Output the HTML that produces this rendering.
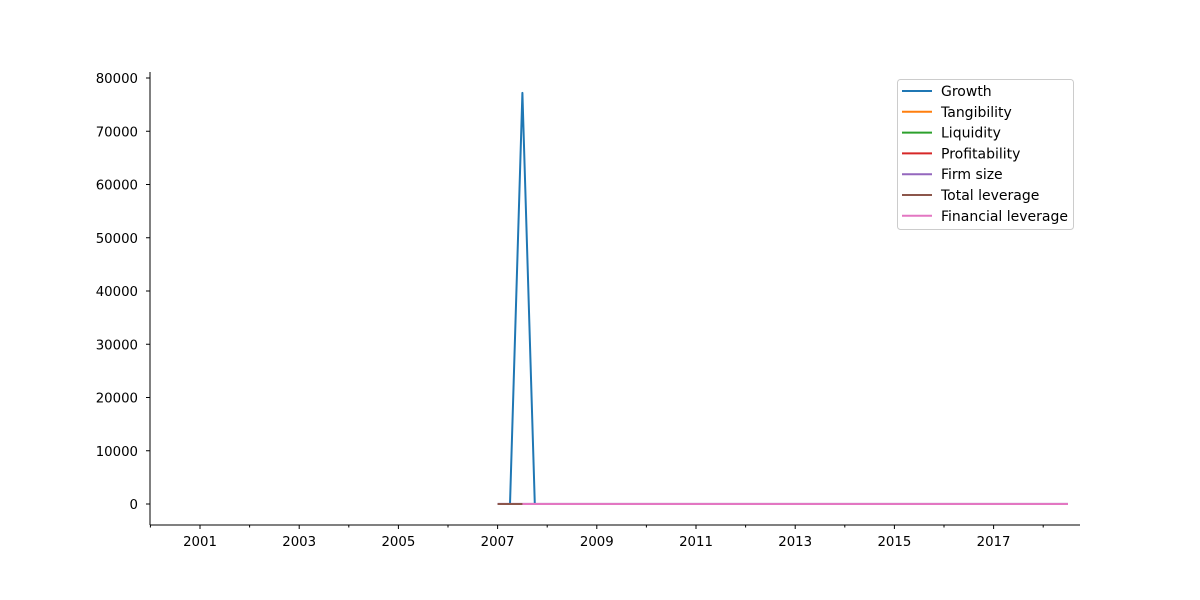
<!DOCTYPE html>
<html><head><meta charset="utf-8"><style>
body{margin:0;background:#fff;}
svg{display:block;font-family:"DejaVu Sans","Liberation Sans",sans-serif;}
</style></head><body>
<svg id="chart" width="1200" height="600"></svg>
<script>
const xTickYears = [2001,2003,2005,2007,2009,2011,2013,2015,2017];
const minorTickYears = [2000,2002,2004,2006,2008,2010,2012,2014,2016,2018];
const yTicks = [0,10000,20000,30000,40000,50000,60000,70000,80000];
const seriesNames = ["Growth","Tangibility","Liquidity","Profitability","Firm size","Total leverage","Financial leverage"];
const seriesColors = ["#1f77b4","#ff7f0e","#2ca02c","#d62728","#9467bd","#8c564b","#e377c2"];
const growthDates = [2007.25,2007.5,2007.75,2008,2009,2010,2011,2012,2013,2014,2015,2016,2017,2018,2018.5];
const growthValues = [0,77200,0,0,0,0,0,0,0,0,0,0,0,0,0];
const otherDates = [2007,2007.5,2008,2009,2010,2011,2012,2013,2014,2015,2016,2017,2018,2018.5];
const tangibilityValues = [0.3,0.3,0.3,0.3,0.3,0.3,0.3,0.3,0.3,0.3,0.3,0.3,0.3,0.3];
const liquidityValues = [1.2,1.2,1.3,1.2,1.3,1.2,1.2,1.3,1.2,1.2,1.3,1.2,1.2,1.2];
const profitabilityValues = [0.05,0.05,0.06,0.04,0.05,0.05,0.05,0.05,0.05,0.05,0.05,0.05,0.05,0.05];
const firmSizeValues = [20,20,20,20,20,20,20,20,20,20,20,20,20,20];
const totalLeverageValues = [0.6,0.6,0.6,0.6,0.6,0.6,0.6,0.6,0.6,0.6,0.6,0.6,0.6,0.6];
const financialLeverageDates = [2007.5,2008,2009,2010,2011,2012,2013,2014,2015,2016,2017,2018,2018.5];
const financialLeverageValues = [1.5,1.5,1.5,1.5,1.5,1.5,1.5,1.5,1.5,1.5,1.5,1.5,1.5];

const NS="http://www.w3.org/2000/svg";
const svg=document.getElementById('chart');
const X=y=>150.4+(y-2000)*49.6;
const Y=v=>504-v*(426/80000);
function el(t,a,p){const e=document.createElementNS(NS,t);for(const k in a)e.setAttribute(k,a[k]);(p||svg).appendChild(e);return e;}

const series=[
 [growthDates,growthValues],[otherDates,tangibilityValues],[otherDates,liquidityValues],
 [otherDates,profitabilityValues],[otherDates,firmSizeValues],[otherDates,totalLeverageValues],
 [financialLeverageDates,financialLeverageValues]];
series.forEach((s,i)=>{
 const p=el('polyline',{points:s[0].map((d,j)=>X(d)+','+Y(s[1][j])).join(' '),fill:'none',stroke:seriesColors[i],'stroke-width':2,'stroke-linejoin':'round'});
 
 
});

const ax=el('line',{x1:150,y1:72,x2:150,y2:525,stroke:'#000','stroke-width':1});


const bx=el('line',{x1:150,y1:525,x2:1080,y2:525,stroke:'#000','stroke-width':1});



yTicks.forEach(v=>{
 el('line',{x1:146,x2:150,y1:Y(v),y2:Y(v),stroke:'#000'});
 const t=el('text',{x:138,y:Y(v)+5,'text-anchor':'end','font-size':13.3,fill:'#000'});
 t.textContent=v;
 
 
});
xTickYears.forEach(yr=>{
 el('line',{x1:X(yr),x2:X(yr),y1:525,y2:529,stroke:'#000'});
 const t=el('text',{x:X(yr),y:546,'text-anchor':'middle','font-size':13.3,fill:'#000'});
 t.textContent=yr;
 
 
});
minorTickYears.forEach(yr=>{ if(X(yr)<=1080) el('line',{x1:X(yr),x2:X(yr),y1:525,y2:527.5,stroke:'#000'}); });

const lg=el('g',{});


el('rect',{x:897.5,y:79.5,width:176,height:150,rx:3,fill:'#fff',stroke:'#ccc'},lg);
seriesNames.forEach((n,i)=>{
 const yy=91+i*20.8;
 el('line',{x1:902,x2:932,y1:yy,y2:yy,stroke:seriesColors[i],'stroke-width':2},lg);
 const t=el('text',{x:941,y:yy+5,'font-size':14,fill:'#000'},lg);
 t.textContent=n;
 
 
});
</script>
</body></html>
